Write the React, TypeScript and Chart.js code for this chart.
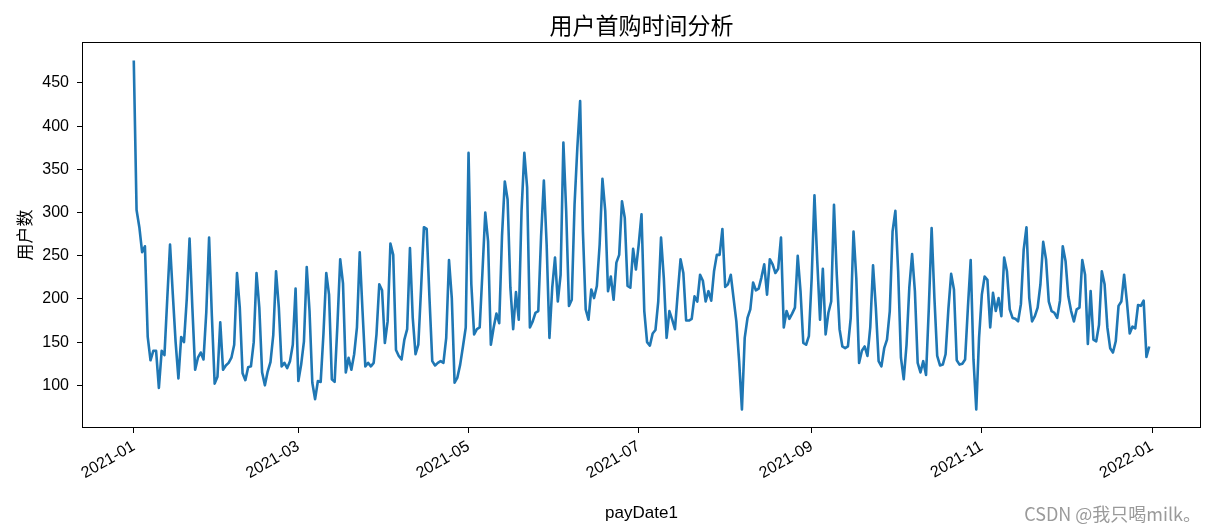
import React, { useEffect, useRef } from 'react';
import { Chart, registerables } from 'chart.js';

Chart.register(...registerables);

const TITLE = '用户首购时间分析';
const Y_LABEL = '用户数';
const X_LABEL = 'payDate1';
const WATERMARK = 'CSDN @我只喝milk。';

// daily first-purchase user counts, 2021-01-01 .. 2021-12-31 (index = day of year)
const userCounts: number[] = [
  476, 303, 283, 254, 261, 156, 129, 140, 140, 97,
  140, 135, 200, 263, 205, 150, 108, 156, 150, 200,
  270, 190, 118, 132, 138, 130, 185, 271, 180, 102,
  110, 173, 118, 123, 126, 132, 147, 230, 190, 114,
  106, 121, 122, 150, 230, 190, 115, 100, 116, 127,
  158, 232, 190, 122, 126, 120, 128, 147, 212, 105,
  124, 151, 237, 186, 103, 84, 105, 104, 160, 230,
  205, 107, 104, 170, 246, 218, 115, 132, 118, 136,
  167, 254, 186, 122, 126, 122, 126, 159, 217, 210,
  149, 174, 264, 251, 141, 134, 130, 153, 165, 259,
  178, 136, 147, 213, 283, 281, 201, 128, 123, 126,
  128, 126, 155, 245, 201, 103, 109, 124, 145, 167,
  369, 217, 159, 165, 167, 232, 300, 267, 147, 167,
  183, 172, 273, 336, 315, 213, 165, 208, 176, 302,
  369, 329, 167, 174, 184, 186, 272, 337, 263, 155,
  213, 248, 197, 228, 381, 302, 192, 199, 309, 375,
  429, 278, 188, 176, 211, 201, 215, 263, 339, 302,
  209, 226, 199, 242, 251, 313, 294, 215, 213, 258,
  234, 263, 298, 186, 150, 146, 160, 164, 197, 271,
  224, 155, 186, 176, 165, 207, 246, 230, 175, 175,
  177, 203, 197, 228, 221, 197, 209, 198, 232, 251,
  251, 281, 214, 217, 228, 201, 174, 128, 72, 155,
  178, 188, 219, 210, 212, 225, 240, 205, 246, 240,
  230, 235, 271, 167, 186, 177, 183, 190, 250, 209,
  149, 147, 157, 224, 320, 244, 176, 235, 159, 184,
  197, 309, 228, 165, 145, 143, 145, 178, 278, 224,
  126, 140, 145, 134, 167, 239, 190, 128, 122, 143,
  153, 186, 278, 302, 232, 132, 107, 147, 213, 252,
  209, 126, 115, 128, 112, 190, 282, 201, 134, 123,
  124, 136, 188, 229, 211, 129, 124, 125, 130, 190,
  245, 130, 72, 155, 205, 226, 222, 167, 207, 186,
  201, 180, 248, 232, 188, 178, 177, 174, 194, 257,
  283, 201, 174, 180, 190, 217, 266, 246, 197, 186,
  184, 178, 198, 261, 244, 203, 186, 174, 188, 190,
  245, 228, 148, 209, 153, 151, 170, 232, 217, 167,
  143, 138, 151, 192, 197, 228, 197, 160, 168, 166,
  193, 192, 198, 133, 145,
];

const xTickDays = [0, 59, 120, 181, 243, 304, 365];
const xTickLabels = ['2021-01', '2021-03', '2021-05', '2021-07', '2021-09', '2021-11', '2022-01'];
const yTicks = [100, 150, 200, 250, 300, 350, 400, 450];

const CJK = '"Noto Sans CJK SC", "Noto Sans", sans-serif';
const LATIN = '"Liberation Sans", "DejaVu Sans", sans-serif';

export default function App() {
  const ref = useRef<HTMLCanvasElement | null>(null);

  useEffect(() => {
    if (!ref.current) return;
    const decor = {
      id: 'decor',
      afterDraw(chart: any) {
        const { ctx, chartArea } = chart;
        ctx.save();
        ctx.strokeStyle = '#000';
        ctx.lineWidth = 1;
        ctx.strokeRect(
          Math.round(chartArea.left) - 0.5,
          Math.round(chartArea.top) - 0.5,
          Math.round(chartArea.right - chartArea.left) + 1,
          Math.round(chartArea.bottom - chartArea.top) + 1
        );
        ctx.fillStyle = '#000';
        ctx.font = `23px ${CJK}`;
        ctx.textAlign = 'center';
        ctx.textBaseline = 'middle';
        ctx.fillText(TITLE, (chartArea.left + chartArea.right) / 2, 25);
        ctx.fillStyle = '#9a9a9a';
        ctx.font = `18px ${CJK}`;
        ctx.textAlign = 'right';
        ctx.fillText(WATERMARK, 1201, 514);
        ctx.restore();
      },
    };

    const chart = new Chart(ref.current, {
      type: 'line',
      data: {
        datasets: [
          {
            data: userCounts.map((v, i) => ({ x: i, y: v })),
            borderColor: '#1f77b4',
            borderWidth: 2.6,
            pointRadius: 0,
            tension: 0,
            fill: false,
            borderJoinStyle: 'round',
          },
        ],
      },
      options: {
        responsive: false,
        animation: false,
        devicePixelRatio: 1,
        layout: { padding: { top: 43, right: 9, left: 0, bottom: 0 } },
        plugins: {
          legend: { display: false },
          tooltip: { enabled: false },
          title: { display: false },
        },
        scales: {
          x: {
            type: 'linear',
            min: -18.2,
            max: 382.2,
            afterBuildTicks: (s: any) => {
              s.ticks = xTickDays.map((v) => ({ value: v }));
            },
            afterFit: (s: any) => {
              s.height = 105;
            },
            ticks: {
              autoSkip: false,
              minRotation: 30,
              maxRotation: 30,
              color: '#000',
              padding: 4,
              font: { family: LATIN, size: 16 },
              callback: (v: any) => {
                const i = xTickDays.indexOf(Number(v));
                return i >= 0 ? xTickLabels[i] : '';
              },
            },
            grid: { drawOnChartArea: false, drawTicks: true, tickLength: 6, color: '#000' },
            border: { display: false },
            title: {
              display: true,
              text: X_LABEL,
              color: '#000',
              font: { family: LATIN, size: 17 },
              padding: { top: 0, bottom: 8 },
            },
          },
          y: {
            type: 'linear',
            min: 51.8,
            max: 496.2,
            afterBuildTicks: (s: any) => {
              s.ticks = yTicks.map((v) => ({ value: v }));
            },
            afterFit: (s: any) => {
              s.width = 83;
            },
            ticks: {
              color: '#000',
              padding: 8,
              font: { family: LATIN, size: 16 },
            },
            grid: { drawOnChartArea: false, drawTicks: true, tickLength: 6, color: '#000' },
            border: { display: false },
            title: {
              display: true,
              text: Y_LABEL,
              color: '#000',
              font: { family: CJK, size: 17 },
              padding: { top: 14, bottom: 0 },
            },
          },
        },
      },
      plugins: [decor],
    } as any);

    return () => chart.destroy();
  }, []);

  return (
    <div style={{ position: 'absolute', left: 0, top: 0, width: 1209, height: 532, background: '#fff' }}>
      <canvas ref={ref} width={1209} height={532} style={{ display: 'block' }} />
    </div>
  );
}
